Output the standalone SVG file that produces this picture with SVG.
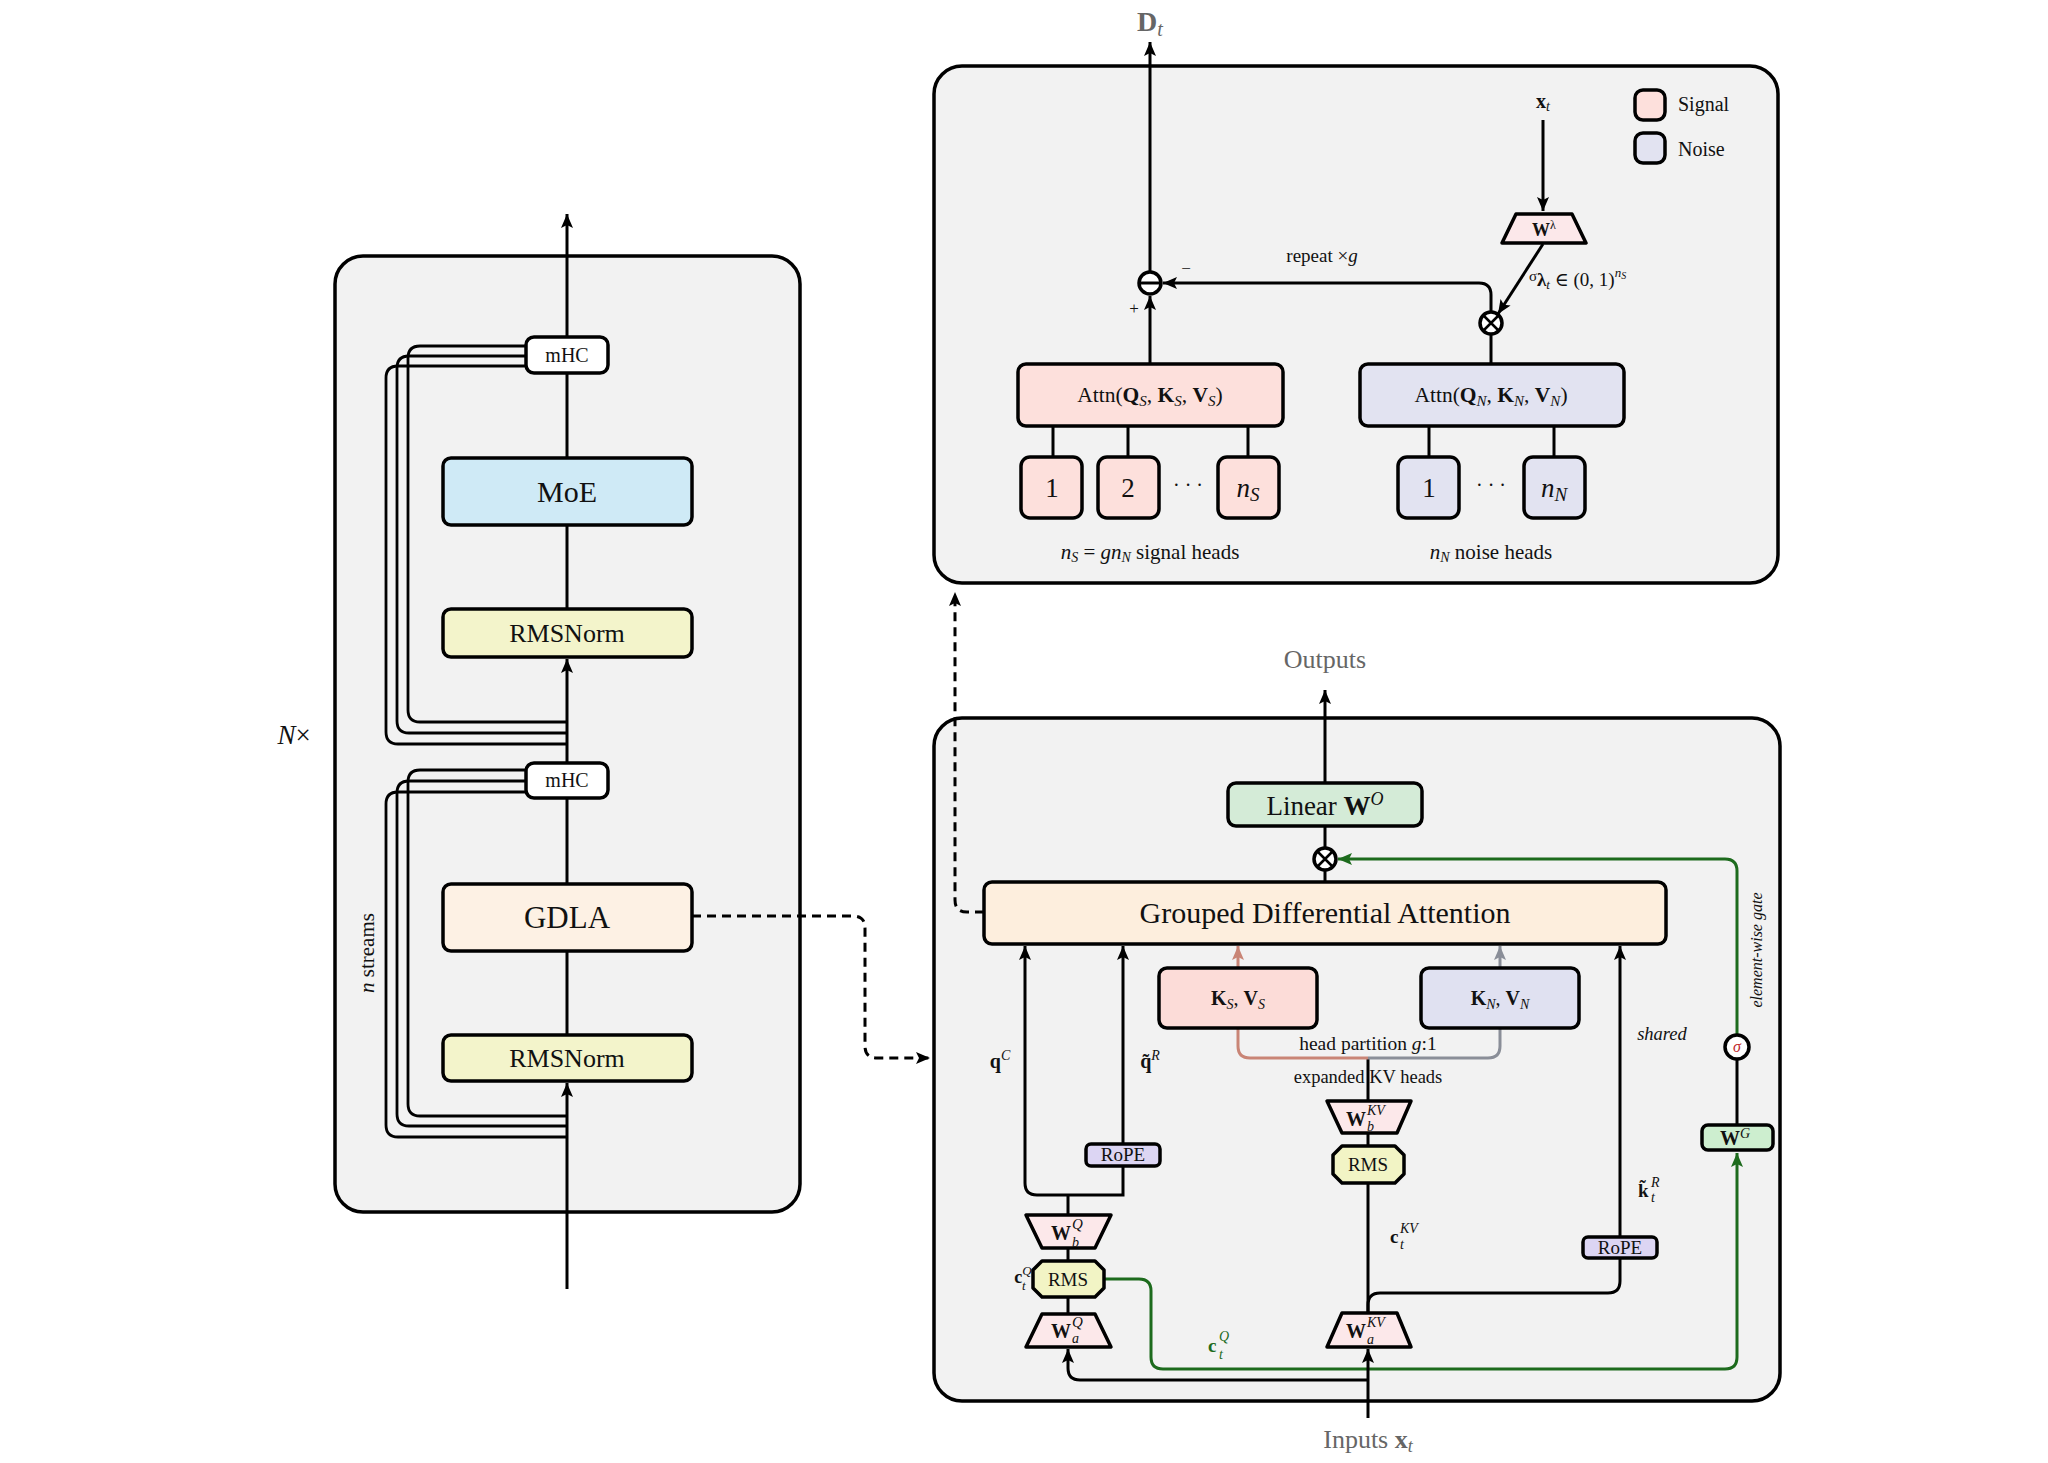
<svg xmlns="http://www.w3.org/2000/svg" width="2048" height="1463" viewBox="0 0 2048 1463">
<defs>
<style>
text{font-family:"Liberation Serif","DejaVu Serif",serif;fill:#111}
.panel{fill:#f2f2f2;stroke:#000;stroke-width:3.5}
.nd{stroke:#000;stroke-width:3.5}
.ln{fill:none;stroke:#000;stroke-width:3}
.st{fill:none;stroke:#000;stroke-width:2.8}
.dash{fill:none;stroke:#000;stroke-width:3;stroke-dasharray:9 6}
.grn{fill:none;stroke:#1d6b1d;stroke-width:3}
.red{fill:none;stroke:#c98576;stroke-width:3}
.gry{fill:none;stroke:#8a8e98;stroke-width:3}
.b{font-weight:bold}
.i{font-style:italic}
.gray{fill:#666}
.g{fill:#1d6b1d}
</style>
<marker id="ab" markerUnits="userSpaceOnUse" markerWidth="16" markerHeight="14" refX="14" refY="6" orient="auto"><path d="M0,0 L14,6 L0,12 L3,6 z" fill="#000"/></marker>
<marker id="ag" markerUnits="userSpaceOnUse" markerWidth="16" markerHeight="14" refX="14" refY="6" orient="auto"><path d="M0,0 L14,6 L0,12 L3,6 z" fill="#1d6b1d"/></marker>
<marker id="ar" markerUnits="userSpaceOnUse" markerWidth="16" markerHeight="14" refX="14" refY="6" orient="auto"><path d="M0,0 L14,6 L0,12 L3,6 z" fill="#c98576"/></marker>
<marker id="ay" markerUnits="userSpaceOnUse" markerWidth="16" markerHeight="14" refX="14" refY="6" orient="auto"><path d="M0,0 L14,6 L0,12 L3,6 z" fill="#8a8e98"/></marker>
</defs>

<!-- panels -->
<g id="panel-left"><rect class="panel" x="335" y="256" width="465" height="956" rx="28"/></g>
<g id="panel-top"><rect class="panel" x="934" y="66" width="844" height="517" rx="28"/></g>
<g id="panel-bottom"><rect class="panel" x="934" y="718" width="846" height="683" rx="28"/></g>

<text x="294" y="744" font-size="27" text-anchor="middle"><tspan class="i">N</tspan>×</text>
<text transform="translate(374,953) rotate(-90)" font-size="21" text-anchor="middle"><tspan class="i">n</tspan> streams</text>

<!-- connectors -->
<g id="connectors">
  <path class="ln" d="M567,1289 L567,1083" marker-end="url(#ab)"/>
  <path class="ln" d="M567,1035 L567,951"/>
  <path class="ln" d="M567,884 L567,798"/>
  <path class="ln" d="M567,763 L567,659" marker-end="url(#ab)"/>
  <path class="ln" d="M567,609 L567,525"/>
  <path class="ln" d="M567,458 L567,373"/>
  <path class="ln" d="M567,337 L567,214" marker-end="url(#ab)"/>
  <path class="st" d="M526,346 L420,346 Q408,346 408,358 L408,710 Q408,722 420,722 L567,722"/>
  <path class="st" d="M526,356 L409,356 Q397,356 397,368 L397,721 Q397,733 409,733 L567,733"/>
  <path class="st" d="M526,366 L398,366 Q386,366 386,378 L386,732 Q386,744 398,744 L567,744"/>
  <path class="st" d="M526,770 L420,770 Q408,770 408,782 L408,1104 Q408,1116 420,1116 L567,1116"/>
  <path class="st" d="M526,781 L409,781 Q397,781 397,793 L397,1114 Q397,1126 409,1126 L567,1126"/>
  <path class="st" d="M526,792 L398,792 Q386,792 386,804 L386,1125 Q386,1137 398,1137 L567,1137"/>
  <path class="dash" d="M692,916 L853,916 Q865,916 865,928 L865,1046 Q865,1058 877,1058 L930,1058" marker-end="url(#ab)"/>
  <path class="dash" d="M984,912 L967,912 Q955,912 955,900 L955,592" marker-end="url(#ab)"/>

  <path class="ln" d="M1150,272 L1150,42" marker-end="url(#ab)"/>
  <path class="ln" d="M1150,364 L1150,296" marker-end="url(#ab)"/>
  <path class="ln" d="M1491,364 L1491,334"/>
  <path class="ln" d="M1491,312 L1491,295 Q1491,283 1479,283 L1163,283" marker-end="url(#ab)"/>
  <path class="ln" d="M1543,120 L1543,211" marker-end="url(#ab)"/>
  <path class="ln" d="M1543,244 L1498,314" marker-end="url(#ab)"/>
  <path class="ln" d="M1053,426 L1053,457 M1128,426 L1128,457 M1248,426 L1248,457 M1429,426 L1429,457 M1554,426 L1554,457"/>

  <path class="ln" d="M1325,783 L1325,690" marker-end="url(#ab)"/>
  <path class="ln" d="M1325,826 L1325,848 M1325,870 L1325,882"/>
  <path class="grn" d="M1737,1035 L1737,871 Q1737,859 1725,859 L1338,859" marker-end="url(#ag)"/>
  <path class="ln" d="M1737,1125 L1737,1059"/>
  <path class="grn" d="M1104,1279 L1139,1279 Q1151,1279 1151,1291 L1151,1357 Q1151,1369 1163,1369 L1725,1369 Q1737,1369 1737,1357 L1737,1153" marker-end="url(#ag)"/>
  <path class="ln" d="M1025,1183 L1025,946" marker-end="url(#ab)"/>
  <path class="ln" d="M1068,1215 L1068,1195 M1025,1183 Q1025,1195 1037,1195 L1123,1195 L1123,1166"/>
  <path class="ln" d="M1123,1144 L1123,946" marker-end="url(#ab)"/>
  <path class="ln" d="M1068,1248 L1068,1261 M1068,1297 L1068,1314"/>
  <path class="ln" d="M1368,1380 L1080,1380 Q1068,1380 1068,1368 L1068,1349" marker-end="url(#ab)"/>
  <path class="ln" d="M1368,1418 L1368,1349" marker-end="url(#ab)"/>
  <path class="ln" d="M1368,1313 L1368,1183 M1368,1146 L1368,1133 M1368,1101 L1368,1058"/>
  <path class="ln" d="M1368,1313 L1368,1305 Q1368,1293 1380,1293 L1608,1293 Q1620,1293 1620,1281 L1620,1258"/>
  <path class="ln" d="M1620,1237 L1620,946" marker-end="url(#ab)"/>
  <path class="red" d="M1238,1028 L1238,1046 Q1238,1058 1250,1058 L1368,1058"/>
  <path class="gry" d="M1500,1028 L1500,1046 Q1500,1058 1488,1058 L1368,1058"/>
  <path class="red" d="M1238,968 L1238,946" marker-end="url(#ar)"/>
  <path class="gry" d="M1500,968 L1500,946" marker-end="url(#ay)"/>
</g>

<!-- left column nodes -->
<g id="mhc-top"><rect class="nd" x="526" y="337" width="82" height="36" rx="8" fill="#fff"/><text x="567" y="362" font-size="20" text-anchor="middle">mHC</text></g>
<g id="moe"><rect class="nd" x="443" y="458" width="249" height="67" rx="8" fill="#cfeaf6"/><text x="567" y="502" font-size="30" text-anchor="middle">MoE</text></g>
<g id="rmsnorm-top"><rect class="nd" x="443" y="609" width="249" height="48" rx="8" fill="#f3f4cb"/><text x="567" y="642" font-size="26" text-anchor="middle">RMSNorm</text></g>
<g id="mhc-bottom"><rect class="nd" x="526" y="763" width="82" height="35" rx="8" fill="#fff"/><text x="567" y="787" font-size="20" text-anchor="middle">mHC</text></g>
<g id="gdla"><rect class="nd" x="443" y="884" width="249" height="67" rx="8" fill="#fdf1e4"/><text x="567" y="928" font-size="31" text-anchor="middle">GDLA</text></g>
<g id="rmsnorm-bottom"><rect class="nd" x="443" y="1035" width="249" height="46" rx="8" fill="#f3f4cb"/><text x="567" y="1067" font-size="26" text-anchor="middle">RMSNorm</text></g>

<!-- top panel nodes -->
<text x="1150" y="31" font-size="28" text-anchor="middle" class="gray"><tspan class="b gray">D</tspan><tspan class="i gray" font-size="20" dy="5">t</tspan></text>
<g id="minus"><circle cx="1150" cy="283" r="11" fill="#fff" class="nd" stroke-width="3"/><path d="M1139,283 L1161,283" stroke="#000" stroke-width="3"/></g>
<text x="1186" y="274" font-size="17" text-anchor="middle">−</text>
<text x="1134" y="314" font-size="17" text-anchor="middle">+</text>
<text x="1322" y="262" font-size="19" text-anchor="middle">repeat ×<tspan class="i">g</tspan></text>
<g id="otimes-top"><circle cx="1491" cy="323" r="11" fill="#fff" class="nd" stroke-width="3"/><path d="M1483,315 L1499,331 M1499,315 L1483,331" stroke="#000" stroke-width="2.5"/></g>
<text x="1543" y="108" font-size="20" text-anchor="middle"><tspan class="b">x</tspan><tspan class="i" font-size="14" dy="3">t</tspan></text>
<g id="w-lambda"><polygon class="nd" points="1516,214 1572,214 1586,243 1502,243" fill="#fce8ea" stroke-linejoin="round"/><text x="1544" y="236" font-size="18" text-anchor="middle"><tspan class="b">W</tspan><tspan font-size="12" dy="-7">λ</tspan></text></g>
<text x="1529" y="281" font-size="15">σ</text>
<text x="1537" y="286" font-size="19"><tspan class="b">λ</tspan><tspan class="i" font-size="13" dy="3">t</tspan><tspan dy="-3"> ∈ (0, 1)</tspan><tspan class="i" font-size="13" dy="-9">n</tspan><tspan class="i" font-size="10" dy="2">S</tspan></text>
<g id="legend">
  <rect class="nd" x="1635" y="90" width="30" height="30" rx="8" fill="#fde0dc"/>
  <text x="1678" y="111" font-size="20">Signal</text>
  <rect class="nd" x="1635" y="133" width="30" height="30" rx="8" fill="#e2e3f1"/>
  <text x="1678" y="156" font-size="20">Noise</text>
</g>
<g id="attn-signal"><rect class="nd" x="1018" y="364" width="265" height="62" rx="8" fill="#fde0dc"/><text x="1150" y="402" font-size="21.5" text-anchor="middle">Attn(<tspan class="b">Q</tspan><tspan class="i" font-size="15" dy="4">S</tspan><tspan dy="-4">, </tspan><tspan class="b">K</tspan><tspan class="i" font-size="15" dy="4">S</tspan><tspan dy="-4">, </tspan><tspan class="b">V</tspan><tspan class="i" font-size="15" dy="4">S</tspan><tspan dy="-4">)</tspan></text></g>
<g id="attn-noise"><rect class="nd" x="1360" y="364" width="264" height="62" rx="8" fill="#e2e3f1"/><text x="1491" y="402" font-size="21.5" text-anchor="middle">Attn(<tspan class="b">Q</tspan><tspan class="i" font-size="15" dy="4">N</tspan><tspan dy="-4">, </tspan><tspan class="b">K</tspan><tspan class="i" font-size="15" dy="4">N</tspan><tspan dy="-4">, </tspan><tspan class="b">V</tspan><tspan class="i" font-size="15" dy="4">N</tspan><tspan dy="-4">)</tspan></text></g>
<g id="head-s1"><rect class="nd" x="1021" y="457" width="61" height="61" rx="9" fill="#fde0dc"/><text x="1052" y="497" font-size="27" text-anchor="middle">1</text></g>
<g id="head-s2"><rect class="nd" x="1098" y="457" width="61" height="61" rx="9" fill="#fde0dc"/><text x="1128" y="497" font-size="27" text-anchor="middle">2</text></g>
<text x="1188" y="492" font-size="20" text-anchor="middle">· · ·</text>
<g id="head-sn"><rect class="nd" x="1218" y="457" width="61" height="61" rx="9" fill="#fde0dc"/><text x="1248" y="497" font-size="27" text-anchor="middle"><tspan class="i">n</tspan><tspan class="i" font-size="19" dy="4">S</tspan></text></g>
<g id="head-n1"><rect class="nd" x="1398" y="457" width="61" height="61" rx="9" fill="#e2e3f1"/><text x="1429" y="497" font-size="27" text-anchor="middle">1</text></g>
<text x="1491" y="492" font-size="20" text-anchor="middle">· · ·</text>
<g id="head-nn"><rect class="nd" x="1524" y="457" width="61" height="61" rx="9" fill="#e2e3f1"/><text x="1554" y="497" font-size="27" text-anchor="middle"><tspan class="i">n</tspan><tspan class="i" font-size="19" dy="4">N</tspan></text></g>
<text x="1150" y="559" font-size="21" text-anchor="middle"><tspan class="i">n</tspan><tspan class="i" font-size="14" dy="3">S</tspan><tspan dy="-3"> = </tspan><tspan class="i">gn</tspan><tspan class="i" font-size="14" dy="3">N</tspan><tspan dy="-3"> signal heads</tspan></text>
<text x="1491" y="559" font-size="21" text-anchor="middle"><tspan class="i">n</tspan><tspan class="i" font-size="14" dy="3">N</tspan><tspan dy="-3"> noise heads</tspan></text>

<!-- bottom panel nodes -->
<text x="1325" y="668" font-size="26" text-anchor="middle" class="gray">Outputs</text>
<g id="linear"><rect class="nd" x="1228" y="783" width="194" height="43" rx="8" fill="#d4ebd7"/><text x="1325" y="815" font-size="27" text-anchor="middle">Linear <tspan class="b">W</tspan><tspan class="i" font-size="18" dy="-10">O</tspan></text></g>
<g id="otimes-bottom"><circle cx="1325" cy="859" r="11" fill="#fff" class="nd" stroke-width="3"/><path d="M1317,851 L1333,867 M1333,851 L1317,867" stroke="#000" stroke-width="2.5"/></g>
<g id="gda"><rect class="nd" x="984" y="882" width="682" height="62" rx="8" fill="#fdeedd"/><text x="1325" y="923" font-size="30" text-anchor="middle">Grouped Differential Attention</text></g>
<g id="kv-signal"><rect class="nd" x="1159" y="968" width="158" height="60" rx="8" fill="#fcdcd8"/><text x="1238" y="1005" font-size="20" text-anchor="middle"><tspan class="b">K</tspan><tspan class="i" font-size="14" dy="4">S</tspan><tspan dy="-4">, </tspan><tspan class="b">V</tspan><tspan class="i" font-size="14" dy="4">S</tspan></text></g>
<g id="kv-noise"><rect class="nd" x="1421" y="968" width="158" height="60" rx="8" fill="#e0e1f1"/><text x="1500" y="1005" font-size="20" text-anchor="middle"><tspan class="b">K</tspan><tspan class="i" font-size="14" dy="4">N</tspan><tspan dy="-4">, </tspan><tspan class="b">V</tspan><tspan class="i" font-size="14" dy="4">N</tspan></text></g>
<text x="1368" y="1050" font-size="19.5" text-anchor="middle">head partition <tspan class="i">g</tspan>:1</text>
<text x="1368" y="1083" font-size="18.5" text-anchor="middle">expanded KV heads</text>
<text x="1762" y="950" font-size="16" text-anchor="middle" class="i" transform="rotate(-90 1762 950)">element-wise gate</text>
<text x="1662" y="1040" font-size="18.5" text-anchor="middle" class="i">shared</text>
<g id="sigma"><circle cx="1737" cy="1047" r="12" fill="#fff" class="nd" stroke-width="3"/><text x="1737" y="1052" font-size="16" text-anchor="middle" class="i" style="fill:#c0282d">σ</text></g>
<g id="wg"><rect class="nd" x="1702" y="1125" width="71" height="25" rx="6" fill="#cdeecf"/><text x="1735" y="1145" font-size="20" text-anchor="middle"><tspan class="b">W</tspan><tspan class="i" font-size="14" dy="-7">G</tspan></text></g>

<text x="1000" y="1068" font-size="20" text-anchor="middle"><tspan class="b">q</tspan><tspan class="i" font-size="14" dy="-8">C</tspan></text>
<text x="1150" y="1068" font-size="20" text-anchor="middle"><tspan class="b">q̃</tspan><tspan class="i" font-size="14" dy="-8">R</tspan></text>
<g id="rope-q"><rect class="nd" x="1086" y="1144" width="74" height="22" rx="5" fill="#dcd5f3"/><text x="1123" y="1161" font-size="19" text-anchor="middle">RoPE</text></g>
<text x="1023" y="1283" font-size="18" text-anchor="middle"><tspan class="b">c</tspan><tspan class="i" font-size="13" dy="-8">Q</tspan></text>
<text x="1022" y="1290" font-size="13" class="i">t</text>
<g id="wbq"><polygon class="nd" points="1026,1215 1111,1215 1095,1248 1042,1248" fill="#fce8ea" stroke-linejoin="round"/><text x="1071" y="1240" font-size="20" text-anchor="end" class="b">W</text><text x="1072" y="1229" font-size="15" class="i">Q</text><text x="1072" y="1247" font-size="14" class="i">b</text></g>
<g id="rms-q"><polygon class="nd" points="1042,1261 1095,1261 1104,1270 1104,1288 1095,1297 1042,1297 1033,1288 1033,1270" fill="#f2f4c5" stroke-linejoin="round"/><text x="1068" y="1286" font-size="19" text-anchor="middle">RMS</text></g>
<g id="waq"><polygon class="nd" points="1042,1314 1095,1314 1111,1347 1026,1347" fill="#fce8ea" stroke-linejoin="round"/><text x="1071" y="1338" font-size="20" text-anchor="end" class="b">W</text><text x="1072" y="1327" font-size="15" class="i">Q</text><text x="1072" y="1343" font-size="14" class="i">a</text></g>
<text x="1208" y="1352" font-size="19" class="b g">c</text>
<text x="1219" y="1341" font-size="14" class="i g">Q</text>
<text x="1219" y="1359" font-size="14" class="i g">t</text>

<g id="wbkv"><polygon class="nd" points="1327,1101 1411,1101 1397,1133 1342,1133" fill="#fce8ea" stroke-linejoin="round"/><text x="1366" y="1126" font-size="20" text-anchor="end" class="b">W</text><text x="1367" y="1115" font-size="14" class="i">KV</text><text x="1367" y="1131" font-size="14" class="i">b</text></g>
<g id="rms-kv"><polygon class="nd" points="1342,1146 1395,1146 1404,1155 1404,1174 1395,1183 1342,1183 1333,1174 1333,1155" fill="#f2f4c5" stroke-linejoin="round"/><text x="1368" y="1171" font-size="19" text-anchor="middle">RMS</text></g>
<text x="1390" y="1243" font-size="19" class="b">c</text>
<text x="1400" y="1233" font-size="14" class="i">KV</text>
<text x="1400" y="1249" font-size="14" class="i">t</text>
<g id="wakv"><polygon class="nd" points="1342,1313 1397,1313 1411,1347 1327,1347" fill="#fce8ea" stroke-linejoin="round"/><text x="1366" y="1338" font-size="20" text-anchor="end" class="b">W</text><text x="1367" y="1327" font-size="14" class="i">KV</text><text x="1367" y="1344" font-size="14" class="i">a</text></g>
<g id="rope-k"><rect class="nd" x="1583" y="1237" width="74" height="21" rx="5" fill="#dcd5f3"/><text x="1620" y="1254" font-size="19" text-anchor="middle">RoPE</text></g>
<text x="1638" y="1197" font-size="19" class="b">k̃</text>
<text x="1651" y="1187" font-size="14" class="i">R</text>
<text x="1651" y="1202" font-size="14" class="i">t</text>
<text x="1368" y="1448" font-size="26" text-anchor="middle" class="gray">Inputs <tspan class="b gray">x</tspan><tspan class="i gray" font-size="18" dy="4">t</tspan></text>
</svg>
